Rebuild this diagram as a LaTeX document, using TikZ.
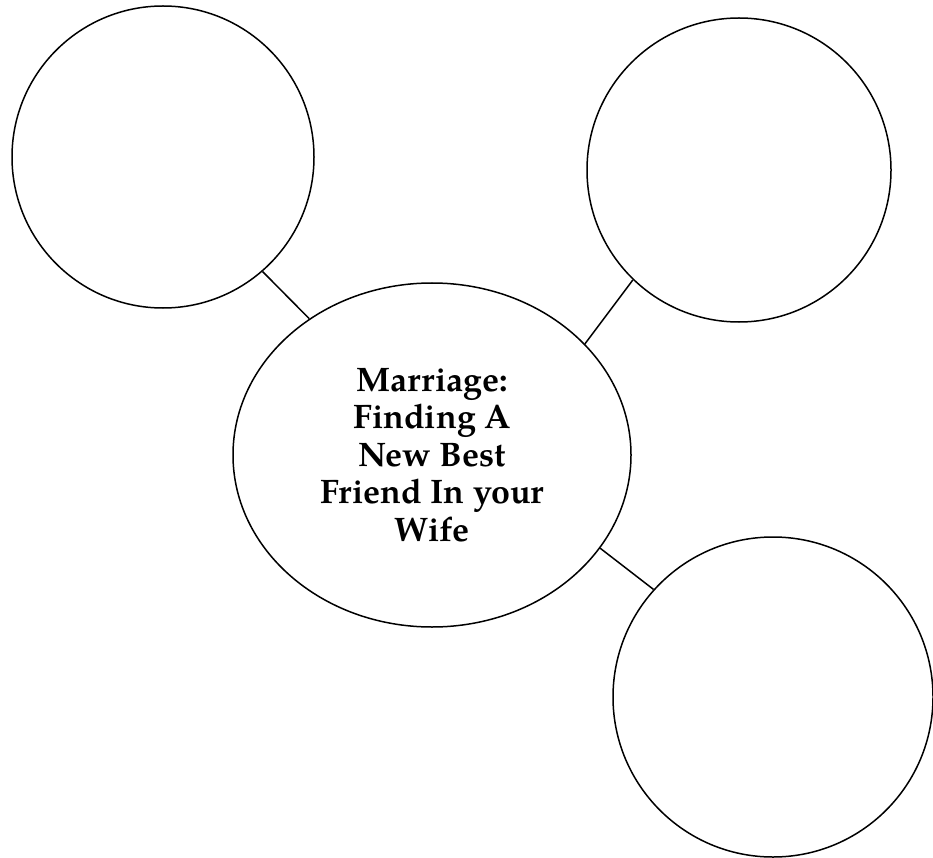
\documentclass[tikz,border=0pt]{standalone}
\usepackage{fontspec}
\setmainfont{texgyrepagella}[Extension=.otf, UprightFont=*-regular, BoldFont=*-bold, ItalicFont=*-italic, BoldItalicFont=*-bolditalic]
\usetikzlibrary{shapes.geometric}
\begin{document}
\begin{tikzpicture}[x=1pt,y=-1pt,
  bubble/.style={draw, circle, line width=1.5pt, inner sep=0pt},
  hub/.style={draw, ellipse, line width=1.5pt, inner sep=0pt, minimum width=398pt, minimum height=344pt, align=center, font=\fontsize{34}{37.5}\selectfont\bfseries},
  link/.style={line width=1.5pt}]
\useasboundingbox (0,0) rectangle (933,858);
\node[bubble, minimum size=302pt] (tl) at (163,157) {};
\node[bubble, minimum size=304pt] (tr) at (739,170) {};
\node[bubble, minimum size=320pt] (br) at (773,697) {};
\node[hub] (c) at (432,455) {Marriage:\\Finding A\\New Best\\Friend In your\\Wife};
\draw[link] (tl.-49.3) -- (c.132.5);
\draw[link] (tr.226.3) -- (c.36);
\draw[link] (c.-29.2) -- (br.138);
\end{tikzpicture}
\end{document}
